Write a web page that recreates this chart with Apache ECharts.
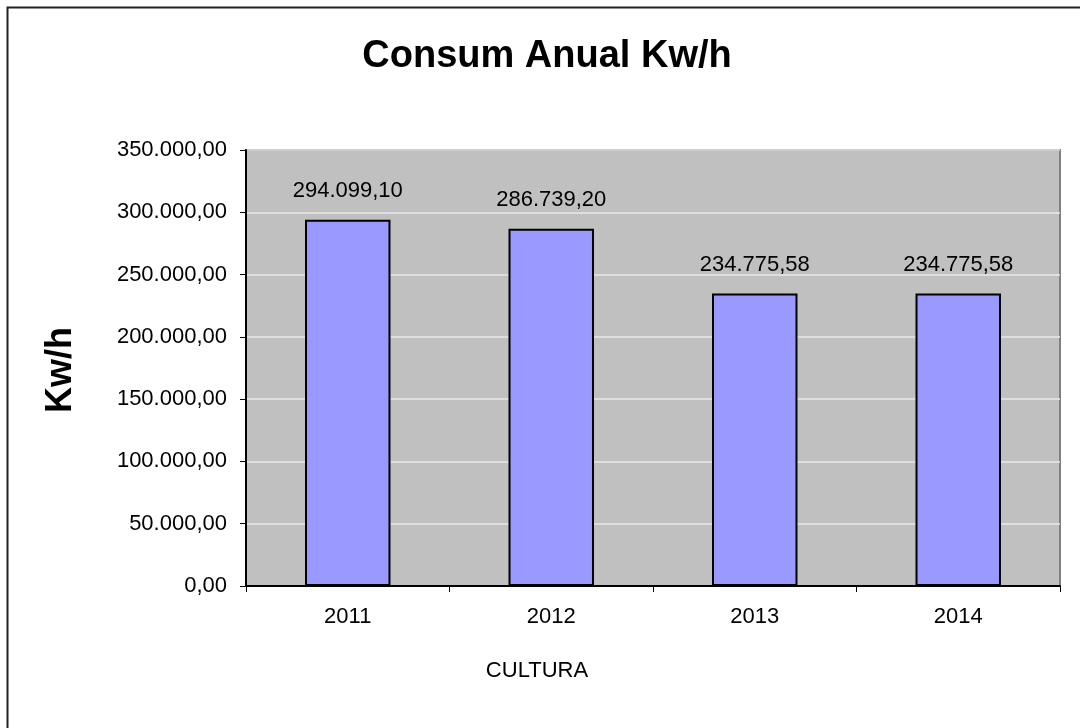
<!DOCTYPE html>
<html>
<head>
<meta charset="utf-8">
<script src="https://cdn.jsdelivr.net/npm/echarts@6/dist/echarts.min.js"></script>
<style>
html,body{margin:0;padding:0;background:#fff;}
#chart{width:1080px;height:728px;}
</style>
</head>
<body>
<div id="chart"></div>
<script>
var categories = ['2011', '2012', '2013', '2014'];
var values = [294099.10, 286739.20, 234775.58, 234775.58];
var titleText = 'Consum Anual Kw/h';
var yAxisName = 'Kw/h';
var xAxisName = 'CULTURA';

function fmt(v, dec) {
  var s = Number(v).toFixed(dec);
  var parts = s.split('.');
  var intPart = parts[0].replace(/\B(?=(\d{3})+(?!\d))/g, '.');
  return intPart + ',' + parts[1];
}

var FONT = '"Liberation Sans", Arial, sans-serif';
var chart = echarts.init(document.getElementById('chart'), null, {renderer: 'canvas'});
chart.setOption({
  backgroundColor: '#ffffff',
  animation: false,
  textStyle: {fontFamily: FONT},
  title: {
    text: titleText,
    left: 542, top: 33, textAlign: 'center',
    textStyle: {fontFamily: FONT, fontWeight: 'bold', fontSize: 38, color: '#000'}
  },
  graphic: [
    {type: 'rect', shape: {x: 7.5, y: 7.5, width: 1200, height: 900},
     style: {fill: 'none', stroke: '#222', lineWidth: 2}, z: -1},
    {type: 'text', rotation: Math.PI / 2, x: 43, y: 370,
     style: {text: yAxisName, fontFamily: FONT, fontWeight: 'bold', fontSize: 36, fill: '#000',
             align: 'center', verticalAlign: 'top'}},
    {type: 'text', x: 537, y: 671,
     style: {text: xAxisName, fontFamily: FONT, fontSize: 22, fill: '#000',
             align: 'center', verticalAlign: 'middle'}}
  ],
  grid: {left: 246, top: 150, right: 20, bottom: 142, show: true,
         backgroundColor: '#c0c0c0', borderColor: '#808080', borderWidth: 2},
  xAxis: {
    type: 'category', data: categories,
    axisLine: {show: true, lineStyle: {color: '#000', width: 2}},
    axisTick: {show: true, alignWithLabel: false, length: 6, lineStyle: {color: '#000', width: 1}},
    axisLabel: {fontFamily: FONT, fontSize: 22, color: '#000', margin: 20}
  },
  yAxis: {
    type: 'value', min: 0, max: 350000, interval: 50000,
    axisLine: {show: true, lineStyle: {color: '#000', width: 2}},
    axisTick: {show: true, length: 6, lineStyle: {color: '#000', width: 1}},
    splitLine: {show: true, lineStyle: {color: '#e8e8e8', width: 1.5}},
    axisLabel: {fontFamily: FONT, fontSize: 22, color: '#000', margin: 19,
                formatter: function (v) { return fmt(v, 2); }}
  },
  series: [{
    type: 'bar', data: values, barWidth: '42%',
    itemStyle: {color: '#9999ff', borderColor: '#000', borderWidth: 2},
    label: {show: true, position: 'top', distance: 18,
            fontFamily: FONT, fontSize: 22, color: '#000',
            formatter: function (p) { return fmt(p.value, 2); }}
  }]
});
</script>
</body>
</html>
